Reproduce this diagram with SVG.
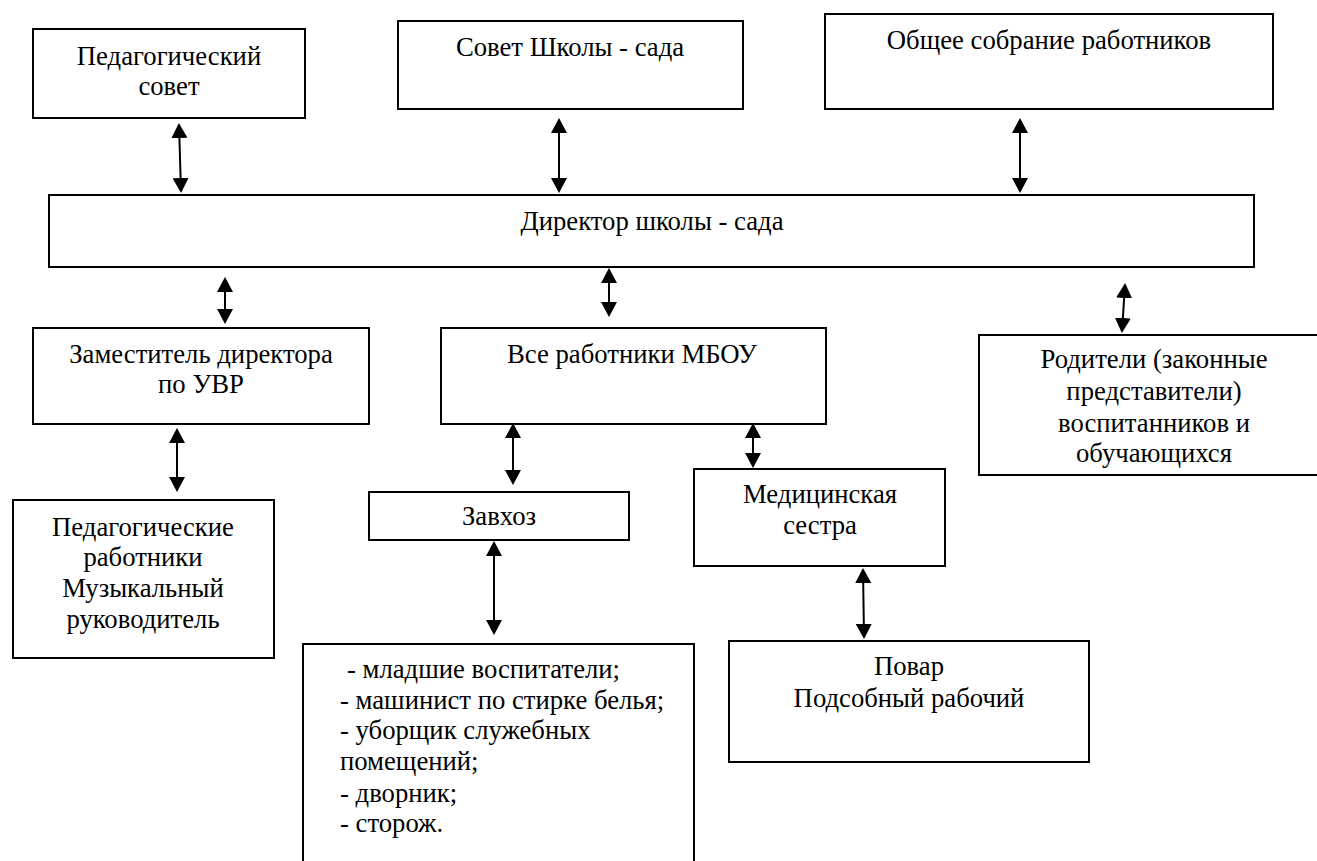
<svg xmlns="http://www.w3.org/2000/svg" width="1317" height="861" viewBox="0 0 1317 861">
<defs>
<style>
.box{fill:#fff;stroke:#000;stroke-width:2}
.t{font-family:'Liberation Serif','Times New Roman',serif;font-size:26.7px;fill:#000;text-anchor:middle}
.tl{font-family:'Liberation Serif','Times New Roman',serif;font-size:26.7px;fill:#000}
.c{stroke:#000;stroke-width:2;fill:none;marker-start:url(#ah);marker-end:url(#ah)}
</style>
<marker id="ah" markerUnits="userSpaceOnUse" markerWidth="16" markerHeight="16" refX="13" refY="8" orient="auto-start-reverse" viewBox="0 0 16 16">
<path d="M0,0 L15,8 L0,16 z" fill="#000"/>
</marker>
</defs>
<rect width="1317" height="861" fill="#fff"/>
<g id="ped-sovet"><rect class="box" x="33" y="29" width="272" height="89"/><text class="t" x="169" y="65">Педагогический</text><text class="t" x="169" y="95">совет</text></g>
<g id="sovet-shkoly"><rect class="box" x="398" y="21" width="345" height="88"/><text class="t" x="570" y="56">Совет Школы - сада</text></g>
<g id="obshchee"><rect class="box" x="825" y="14" width="448" height="95"/><text class="t" x="1049" y="49">Общее собрание работников</text></g>
<g id="direktor"><rect class="box" x="49" y="195" width="1205" height="72"/><text class="t" x="652" y="230">Директор школы - сада</text></g>
<g id="zam"><rect class="box" x="33" y="328" width="336" height="96"/><text class="t" x="201" y="363">Заместитель директора</text><text class="t" x="201" y="393">по УВР</text></g>
<g id="vse"><rect class="box" x="441" y="328" width="385" height="96"/><text class="t" x="632" y="363">Все работники МБОУ</text></g>
<g id="roditeli"><rect class="box" x="979" y="335" width="360" height="140"/><text class="t" x="1154" y="368">Родители (законные</text><text class="t" x="1154" y="400">представители)</text><text class="t" x="1154" y="432">воспитанников и</text><text class="t" x="1154" y="462">обучающихся</text></g>
<g id="ped-rab"><rect class="box" x="13" y="500" width="261" height="158"/><text class="t" x="143" y="536">Педагогические</text><text class="t" x="143" y="566">работники</text><text class="t" x="143" y="597">Музыкальный</text><text class="t" x="143" y="628">руководитель</text></g>
<g id="zavhoz"><rect class="box" x="369" y="492" width="260" height="48"/><text class="t" x="499" y="525">Завхоз</text></g>
<g id="medsestra"><rect class="box" x="694" y="469" width="251" height="97"/><text class="t" x="820" y="503">Медицинская</text><text class="t" x="820" y="534">сестра</text></g>
<g id="spisok"><rect class="box" x="303" y="644" width="391" height="240"/><text class="tl" x="347" y="678">- младшие воспитатели;</text><text class="tl" x="340" y="709">- машинист по стирке белья;</text><text class="tl" x="340" y="739">- уборщик служебных</text><text class="tl" x="340" y="770">помещений;</text><text class="tl" x="340" y="802">- дворник;</text><text class="tl" x="340" y="832">- сторож.</text></g>
<g id="povar"><rect class="box" x="729" y="641" width="360" height="121"/><text class="t" x="909" y="675">Повар</text><text class="t" x="909" y="707">Подсобный рабочий</text></g>
<g id="connectors">
<line class="c" x1="179" y1="125" x2="181" y2="191"/>
<line class="c" x1="559" y1="120" x2="559" y2="191"/>
<line class="c" x1="1020" y1="120" x2="1020" y2="191"/>
<line class="c" x1="225" y1="279" x2="225" y2="322"/>
<line class="c" x1="609" y1="270" x2="609" y2="315"/>
<line class="c" x1="1125" y1="285" x2="1122" y2="331"/>
<line class="c" x1="177" y1="430" x2="177" y2="490"/>
<line class="c" x1="513" y1="425" x2="513" y2="483"/>
<line class="c" x1="753" y1="425" x2="753" y2="466"/>
<line class="c" x1="494" y1="543" x2="494" y2="633"/>
<line class="c" x1="863" y1="570" x2="864" y2="637"/>
</g>
</svg>
